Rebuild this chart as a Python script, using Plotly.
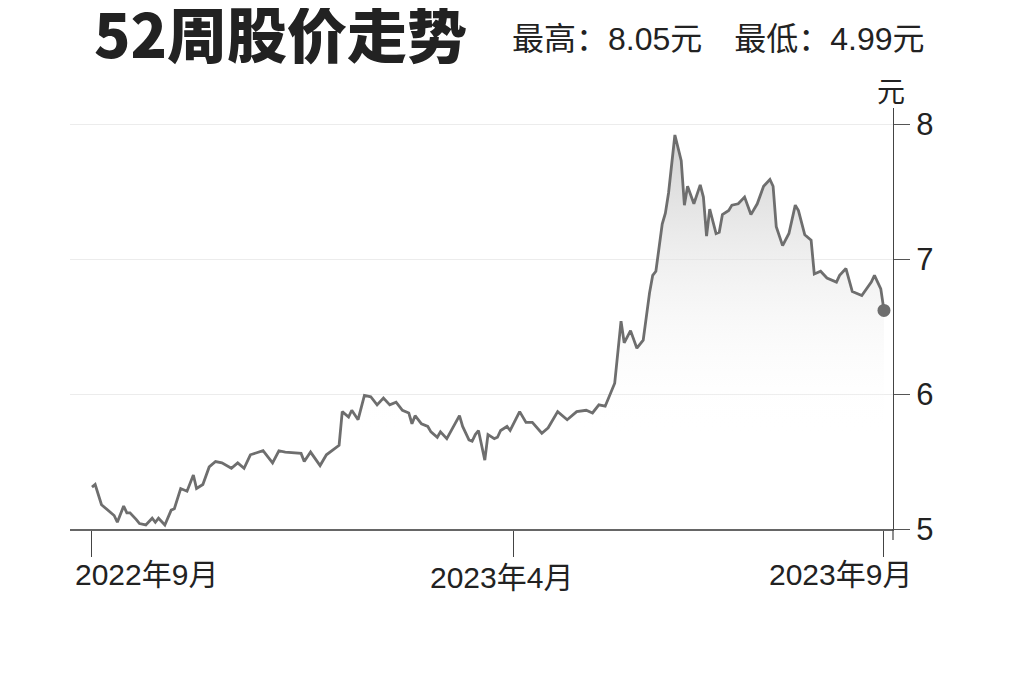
import plotly.graph_objects as go

# trading-day index (0 = 2022年9月, 250 = 2023年9月) and closing price (元)
day = [0, 1, 3, 6, 7, 8, 10, 11, 12, 14, 15, 17, 19, 20, 21, 23, 25, 26, 28, 30,
       32, 33, 35, 37, 39, 41, 44, 46, 48, 50, 54, 57, 59, 61, 66, 67, 69, 72, 74, 78,
       79, 81, 82, 84, 86, 88, 90, 92, 94, 96, 98, 100, 101, 102, 104, 106, 107, 109, 110, 112,
       114, 116, 117, 119, 120, 121, 122, 124, 125, 127, 128, 129, 131, 132, 135, 137, 139, 142, 144, 147,
       150, 153, 156, 158, 160, 162, 165, 166, 167, 168, 170, 172, 174, 176, 177, 178, 180, 181, 182, 184,
       186, 187, 188, 190, 192, 193, 194, 195, 197, 198, 199, 201, 202, 204, 206, 208, 210, 212, 214, 215,
       216, 218, 220, 222, 223, 225, 227, 228, 230, 232, 235, 236, 238, 240, 243, 246, 247, 249, 250]
price = [5.31, 5.33, 5.18, 5.12, 5.10, 5.05, 5.17, 5.12, 5.12, 5.07, 5.04, 5.03, 5.08, 5.05, 5.08, 5.03, 5.14, 5.15, 5.30, 5.28,
         5.40, 5.30, 5.33, 5.46, 5.50, 5.49, 5.45, 5.49, 5.45, 5.55, 5.58, 5.49, 5.58, 5.57, 5.56, 5.50, 5.57, 5.47, 5.55, 5.62,
         5.87, 5.83, 5.88, 5.81, 5.99, 5.98, 5.92, 5.97, 5.92, 5.94, 5.88, 5.86, 5.78, 5.84, 5.78, 5.76, 5.72, 5.68, 5.72, 5.67,
         5.76, 5.84, 5.76, 5.66, 5.65, 5.70, 5.73, 5.51, 5.70, 5.67, 5.68, 5.73, 5.76, 5.73, 5.87, 5.79, 5.79, 5.71, 5.75, 5.87,
         5.81, 5.87, 5.88, 5.86, 5.92, 5.91, 6.08, 6.30, 6.54, 6.38, 6.47, 6.34, 6.40, 6.75, 6.88, 6.91, 7.26, 7.34, 7.49, 7.92,
         7.73, 7.40, 7.54, 7.41, 7.55, 7.46, 7.17, 7.37, 7.19, 7.20, 7.33, 7.36, 7.40, 7.41, 7.46, 7.33, 7.41, 7.54, 7.59, 7.54,
         7.24, 7.10, 7.19, 7.40, 7.36, 7.18, 7.14, 6.89, 6.91, 6.86, 6.83, 6.88, 6.93, 6.76, 6.73, 6.83, 6.88, 6.78, 6.62]

x_tick_vals = [0, 133, 250]
x_tick_text = ["2022年9月", "2023年4月", "2023年9月"]
y_tick_vals = [5, 6, 7, 8]

title_text = "52周股价走势"
subtitle_text = "最高：8.05元\u3000最低：4.99元"
unit_text = "元"

LINE = "#6e6e6e"
TXT = "#222222"
LAT = "Liberation Sans, Arial, Noto Sans CJK SC, sans-serif"

fig = go.Figure()
fig.add_trace(go.Scatter(
    x=day, y=price, mode="lines",
    line=dict(color=LINE, width=2.8),
    fill="tozeroy",
    fillgradient=dict(type="vertical", start=5.7, stop=7.9,
                      colorscale=[[0, "rgba(255,255,255,0)"], [1, "rgba(205,205,205,0.9)"]]),
    hoverinfo="skip", showlegend=False,
))
fig.add_trace(go.Scatter(
    x=[day[-1]], y=[price[-1]], mode="markers",
    marker=dict(color=LINE, size=13),
    hoverinfo="skip", showlegend=False,
))

annotations = []
# x tick labels
shifts = [55, -11.5, -43.5]
yshifts = [-45, -48, -45]
for v, t, s, ys in zip(x_tick_vals, x_tick_text, shifts, yshifts):
    annotations.append(dict(x=v, y=0, xref="x", yref="paper", text=t, showarrow=False,
                            xanchor="center", yanchor="middle", xshift=s, yshift=ys,
                            font=dict(size=30, color=TXT, family=LAT)))
# title
annotations.append(dict(x=(92 - 70) / 823, y=(529 - 31) / 421, xref="paper", yref="paper",
                        text=title_text, showarrow=False, xanchor="left", yanchor="middle",
                        font=dict(size=60, color=TXT, family="Noto Sans CJK SC", weight=900)))
annotations.append(dict(x=(510 - 70) / 823, y=(529 - 39) / 421, xref="paper", yref="paper",
                        text=subtitle_text, showarrow=False, xanchor="left", yanchor="middle",
                        font=dict(size=32, color=TXT, family=LAT)))
annotations.append(dict(x=(891 - 70) / 823, y=(529 - 90) / 421, xref="paper", yref="paper",
                        text=unit_text, showarrow=False, xanchor="center", yanchor="middle",
                        font=dict(size=28, color=TXT, family="Noto Sans CJK SC")))

fig.update_layout(
    width=1024, height=682,
    margin=dict(l=62, r=139, t=100, b=161),
    paper_bgcolor="white", plot_bgcolor="white",
    annotations=annotations,
    shapes=[dict(type="line", xref="paper", yref="paper", x0=1, x1=1,
                 y0=-11 / 421, y1=0, line=dict(color="#444", width=1.2))],
    xaxis=dict(range=[-6.94, 252.85], tickvals=x_tick_vals, showticklabels=False,
               ticks="outside", ticklen=26, tickcolor="#444", tickwidth=1,
               showline=True, linecolor="#666", linewidth=1.5,
               showgrid=False, zeroline=False, fixedrange=True),
    yaxis=dict(range=[5, 8.12], side="right", tickvals=y_tick_vals,
               ticks="outside", ticklen=16, tickcolor="#555", tickwidth=1,
               showline=True, linecolor="#444", linewidth=1.2,
               showgrid=True, gridcolor="#ececec", gridwidth=1.2,
               zeroline=False, tickfont=dict(size=31, color=TXT, family=LAT)),
)

fig.write_html("out.html")
